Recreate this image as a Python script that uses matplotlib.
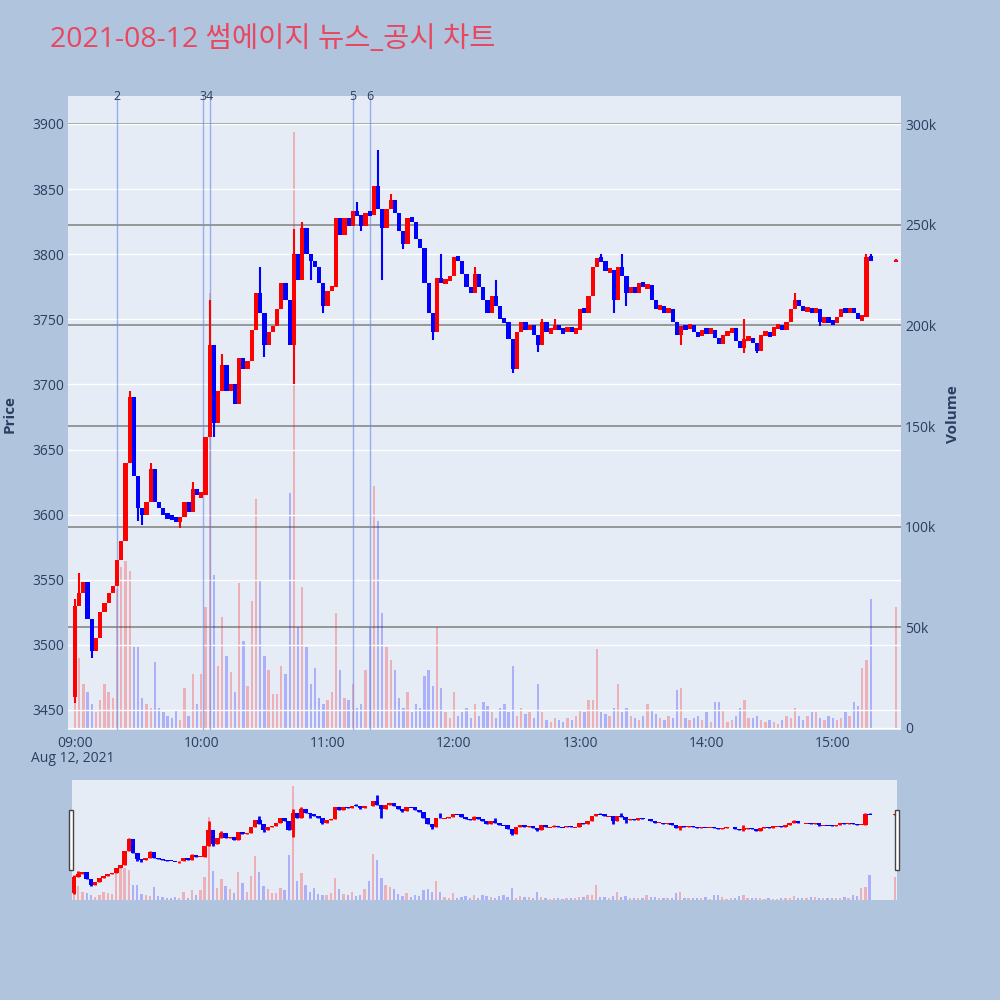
import matplotlib.pyplot as plt
from matplotlib.patches import Rectangle
import matplotlib.transforms as mtransforms
import numpy as np

plt.rcParams['font.family'] = ['Open Sans', 'Noto Sans CJK KR', 'DejaVu Sans']

title = '2021-08-12 썸에이지 뉴스_공시 차트'

# 2-minute candles starting 09:00
first_open = 3460
closes = [
    3530, 3540, 3548, 3520, 3495, 3505, 3525, 3532, 3540, 3545,
    3565, 3580, 3640, 3690, 3630, 3605, 3600, 3610, 3635, 3610,
    3605, 3600, 3598, 3597, 3595, 3598, 3610, 3602, 3620, 3615,
    3615, 3660, 3730, 3670, 3695, 3715, 3695, 3700, 3685, 3720,
    3712, 3718, 3742, 3770, 3755, 3730, 3740, 3745, 3758, 3778,
    3765, 3730, 3800, 3780, 3820, 3800, 3795, 3790, 3778, 3760,
    3772, 3775, 3828, 3815, 3828, 3822, 3833, 3830, 3822, 3832,
    3830, 3852, 3835, 3820, 3835, 3842, 3832, 3818, 3808, 3828,
    3825, 3812, 3805, 3778, 3755, 3740, 3782, 3778, 3780, 3783,
    3798, 3795, 3785, 3775, 3770, 3785, 3775, 3765, 3755, 3768,
    3760, 3750, 3748, 3735, 3712, 3740, 3748, 3742, 3746, 3738,
    3730, 3748, 3740, 3742, 3745, 3742, 3740, 3744, 3740, 3742,
    3758, 3755, 3768, 3790, 3797, 3795, 3787, 3788, 3765, 3790,
    3783, 3770, 3775, 3770, 3778, 3775, 3776, 3765, 3758, 3760,
    3755, 3758, 3748, 3738, 3745, 3743, 3746, 3740, 3737, 3742,
    3740, 3742, 3736, 3731, 3738, 3740, 3743, 3733, 3728, 3735,
    3736, 3732, 3726, 3738, 3740, 3737, 3744, 3745, 3742, 3748,
    3758, 3765, 3760, 3757, 3758, 3756, 3758, 3748, 3751, 3748,
    3747, 3752, 3758, 3756, 3758, 3755, 3750, 3752, 3798, 3795,
]
wick_highs = {0: 3535, 1: 3555, 13: 3695, 18: 3640, 28: 3625, 32: 3765, 33: 3705,
              35: 3723, 44: 3790, 52: 3819, 54: 3825, 67: 3840, 72: 3880, 75: 3846,
              87: 3800, 95: 3790, 100: 3780, 111: 3750, 114: 3750, 125: 3800,
              130: 3800, 159: 3750, 171: 3770, 188: 3800, 189: 3800}
wick_lows = {0: 3455, 4: 3490, 15: 3595, 16: 3592, 25: 3590, 33: 3660, 45: 3721,
             52: 3700, 56: 3780, 59: 3755, 68: 3818, 73: 3780, 78: 3804, 85: 3734,
             104: 3709, 110: 3725, 128: 3755, 131: 3760, 144: 3730, 159: 3724,
             162: 3724, 177: 3745}
# volume per candle, thousands of shares
volumes = [
    28, 35, 22, 18, 12, 8, 14, 22, 18, 15,
    69, 80, 83, 78, 40, 40, 15, 12, 10, 33,
    10, 8, 6, 5, 9, 4, 20, 6, 27, 12,
    27, 60, 216, 76, 31, 55, 36, 28, 18, 72,
    43, 21, 63, 114, 73, 36, 29, 17, 17, 31,
    27, 117, 296, 50, 70, 40, 22, 30, 15, 12,
    14, 18, 57, 29, 15, 14, 22, 10, 12, 29,
    50, 120, 103, 57, 40, 34, 29, 15, 10, 18,
    8, 12, 10, 26, 29, 21, 50, 20, 8, 5,
    18, 6, 8, 10, 5, 12, 6, 13, 11, 8,
    5, 10, 12, 8, 31, 6, 10, 7, 8, 5,
    22, 8, 4, 3, 5, 4, 3, 5, 4, 6,
    9, 8, 14, 14, 39, 8, 7, 6, 10, 22,
    8, 10, 6, 5, 4, 6, 12, 9, 7, 5,
    4, 6, 5, 19, 20, 5, 4, 5, 6, 4,
    8, 3, 13, 13, 9, 3, 4, 6, 10, 14,
    5, 5, 6, 4, 3, 4, 3, 2, 4, 6,
    5, 10, 6, 4, 6, 8, 8, 5, 4, 6,
    5, 4, 5, 8, 6, 13, 11, 30, 34, 64,
]
# closing auction at 15:30
auction_min = 390
auction_price = 3795
auction_volume = 60

news_labels = ['2', '3', '4', '5', '6']
news_times = ['09:20', '10:01', '10:04', '11:12', '11:20']

price_ticks = [3450, 3500, 3550, 3600, 3650, 3700, 3750, 3800, 3850, 3900]
vol_ticks = [0, 50, 100, 150, 200, 250, 300]
hour_labels = ['09:00', '10:00', '11:00', '12:00', '13:00', '14:00', '15:00']


def to_min(hhmm):
    h, m = hhmm.split(':')
    return (int(h) - 9) * 60 + int(m)


# build OHLC
t = np.arange(len(closes)) * 2.0
c = np.array(closes, dtype=float)
o = np.concatenate([[first_open], c[:-1]])
hi = np.maximum(o, c)
lo = np.minimum(o, c)
for k, v in wick_highs.items():
    hi[k] = max(hi[k], v)
for k, v in wick_lows.items():
    lo[k] = min(lo[k], v)
t = np.append(t, auction_min)
o = np.append(o, auction_price)
c = np.append(c, auction_price)
hi = np.append(hi, auction_price + 1)
lo = np.append(lo, auction_price - 1)
vol = np.array(volumes + [auction_volume], dtype=float) * 1000

up = c >= o
cc = np.where(up, '#ff0000', '#0000ff')
vc = [(1, 0, 0, 0.25) if u else (0, 0, 1, 0.25) for u in up]
# a flat candle still shows one price tick (5 won) of body
body_h = np.maximum(np.abs(c - o), 4.0)
body_lo = (o + c) / 2 - body_h / 2
body_lo[-1] = auction_price - 0.8
body_h[-1] = 1.6

text_col = '#2a3f5f'
bg = '#b0c4de'
plot_bg = '#e5ecf6'

fig = plt.figure(figsize=(10, 10), dpi=100)
fig.patch.set_facecolor(bg)


def draw(ax_p, ax_v, body_w, vol_w, wick_lw):
    ax_v.bar(t, vol, width=vol_w, color=vc, linewidth=0, zorder=2)
    ax_p.vlines(t, lo, hi, colors=cc, linewidth=wick_lw, zorder=3)
    ax_p.bar(t, body_h, bottom=body_lo, width=body_w, color=cc, linewidth=0, zorder=3)


# main chart
ax_v = fig.add_axes([0.068, 0.270, 0.833, 0.634])
ax_v.set_facecolor(plot_bg)
ax_p = ax_v.twinx()
ax_p.yaxis.tick_left()
ax_p.yaxis.set_label_position('left')
ax_v.yaxis.tick_right()

draw(ax_p, ax_v, 2.0, 1.1, 1.5)

ax_v.set_xlim(-3.3, 392.4)
ax_v.set_ylim(-1000, 314000)
ax_p.set_ylim(3434.6, 3921.5)

for v in vol_ticks[1:]:
    ax_v.axhline(v * 1000, color='#888888', linewidth=1.2, zorder=1)
ax_v.axhline(0, color='white', linewidth=1, zorder=1)
ax_v.set_yticks([v * 1000 for v in vol_ticks])
ax_v.set_yticklabels(['0'] + [f'{v}k' for v in vol_ticks[1:]])
ax_p.set_yticks(price_ticks)
ax_p.set_yticklabels([str(p) for p in price_ticks])
ax_p.grid(axis='y', color='white', linewidth=1, zorder=0)
ax_v.set_xticks([i * 60 for i in range(len(hour_labels))])
ax_v.set_xticklabels(hour_labels)

for a in (ax_v, ax_p):
    for s in a.spines.values():
        s.set_visible(False)
    a.tick_params(length=0, labelsize=10, labelcolor=text_col)
ax_v.tick_params(axis='y', pad=3)
ax_p.tick_params(axis='y', pad=3)
ax_v.tick_params(axis='x', pad=4)

trans = mtransforms.blended_transform_factory(ax_p.transData, ax_p.transAxes)
for lab, hhmm in zip(news_labels, news_times):
    m = to_min(hhmm)
    ax_p.axvline(m, color='#6f8ce8', alpha=0.65, linewidth=1, zorder=2)
    ax_p.text(m, 1.0, lab, transform=trans, ha='center', va='center',
              fontsize=9, color=text_col, clip_on=False)

fig.text(0.073, 0.241, 'Aug 12, 2021', ha='center', va='center',
         fontsize=10, color=text_col)
fig.text(0.010, 0.586, 'Price', rotation=90, ha='center', va='center',
         fontsize=11, fontweight='bold', color=text_col)
fig.text(0.953, 0.586, 'Volume', rotation=90, ha='center', va='center',
         fontsize=11, fontweight='bold', color=text_col)
fig.text(0.05, 0.96, title, ha='left', va='center', fontsize=20.5,
         color='#e8475f', family=['Open Sans', 'Noto Sans CJK KR'])

# range slider
sl_v = fig.add_axes([0.072, 0.100, 0.825, 0.120])
sl_v.set_facecolor(plot_bg)
sl_p = sl_v.twinx()
draw(sl_p, sl_v, 2.2, 1.1, 2.0)
sl_v.set_xlim(-1, 391)
sl_v.set_ylim(0, 311000)
sl_p.set_ylim(3430, 3942)
for a in (sl_v, sl_p):
    a.set_xticks([])
    a.set_yticks([])
    for s in a.spines.values():
        s.set_visible(False)

for x0 in (0.069, 0.895):
    fig.patches.append(Rectangle((x0, 0.130), 0.004, 0.060, transform=fig.transFigure,
                                 facecolor='white', edgecolor='#444444', linewidth=1))

fig.savefig('out.png', dpi=100, facecolor=bg)
